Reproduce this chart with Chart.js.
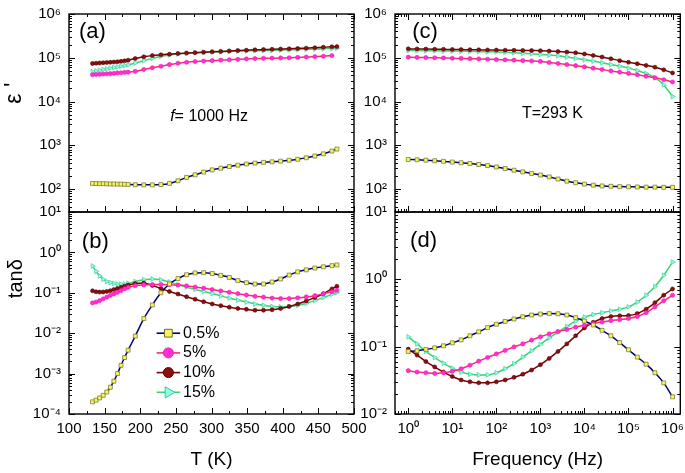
<!DOCTYPE html>
<html>
<head>
<meta charset="utf-8">
<script src="https://cdn.jsdelivr.net/npm/chart.js@4.4.0/dist/chart.umd.min.js"></script>
<style>
  html, body { margin: 0; padding: 0; background: #fff; }
  #wrap { position: relative; width: 685px; height: 473px; }
  #wrap canvas { position: absolute; left: 0; top: 0; }
</style>
</head>
<body>
<div id="wrap">
  <canvas id="panelA" width="685" height="473"></canvas>
  <canvas id="panelB" width="685" height="473"></canvas>
  <canvas id="panelC" width="685" height="473"></canvas>
  <canvas id="panelD" width="685" height="473"></canvas>
</div>
<script>
// ---- data ----
const seriesNames = ['0.5%', '5%', '10%', '15%'];

// temperature sweep at f = 1000 Hz
const temps = [133, 138, 143, 148, 153, 158, 163, 168, 173, 178, 183, 193, 205, 217, 229, 241, 253, 265,
  277, 289, 301, 313, 325, 337, 349, 361, 373, 385, 397, 409, 421, 433, 445, 457, 469, 476];

const epsT_05 = [135, 134, 133, 133, 132, 131, 131, 130, 130, 129, 128, 126, 125, 125, 127, 135, 155, 185,
  212, 245, 275, 300, 328, 352, 375, 393, 408, 420, 435, 455, 480, 520, 570, 640, 740, 820];
const epsT_5 = [41000, 41500, 42000, 42500, 43000, 43500, 44000, 45000, 45500, 46500, 47000, 49000, 54000, 59000,
  64000, 70000, 75000, 79000, 82000, 84000, 86000, 88000, 90000, 92000, 94000, 96000, 97000, 98000, 99000,
  100000, 102000, 104000, 106000, 108000, 112000, null];
const epsT_10 = [74000, 75000, 76000, 77000, 78000, 79000, 80000, 81000, 83000, 85000, 88000, 96000, 105000,
  112000, 117000, 121000, 125000, 128000, 131000, 134000, 137000, 140000, 143000, 146000, 149000, 152000,
  154000, 156000, 158000, 160000, 163000, 166000, 170000, 174000, 178000, 180000];
const epsT_15 = [48000, 50000, 52000, 54000, 56000, 58000, 60000, 62000, 64000, 66000, 69000, 76000, 86000,
  97000, 108000, 116000, 122000, 127000, 131000, 134000, 136000, 138000, 140000, 142000, 144000, 145000,
  146000, 148000, 150000, 152000, 154000, 156000, 158000, 161000, 163000, 165000];

const tanT_05 = [2.0e-4, 2.2e-4, 2.5e-4, 2.9e-4, 3.5e-4, 4.6e-4, 6.5e-4, 1.0e-3, 1.6e-3, 2.5e-3, 3.8e-3, 8.5e-3,
  0.023, 0.05, 0.1, 0.165, 0.225, 0.28, 0.31, 0.315, 0.3, 0.27, 0.24, 0.2, 0.178, 0.165, 0.165, 0.185, 0.22,
  0.275, 0.33, 0.37, 0.41, 0.44, 0.47, 0.49];
const tanT_5 = [0.056, 0.059, 0.064, 0.071, 0.078, 0.086, 0.094, 0.103, 0.113, 0.125, 0.136, 0.15, 0.157, 0.16,
  0.16, 0.159, 0.155, 0.148, 0.139, 0.13, 0.12, 0.111, 0.103, 0.095, 0.088, 0.082, 0.078, 0.074, 0.072, 0.072,
  0.075, 0.079, 0.085, 0.094, 0.106, 0.115];
const tanT_10 = [0.112, 0.106, 0.104, 0.105, 0.108, 0.113, 0.12, 0.128, 0.137, 0.146, 0.155, 0.17, 0.175, 0.152,
  0.128, 0.108, 0.093, 0.08, 0.069, 0.06, 0.053, 0.048, 0.044, 0.041, 0.039, 0.037, 0.037, 0.038, 0.041, 0.046,
  0.053, 0.063, 0.076, 0.095, 0.125, 0.145];
const tanT_15 = [0.46, 0.34, 0.26, 0.215, 0.19, 0.178, 0.17, 0.165, 0.163, 0.165, 0.172, 0.19, 0.21, 0.22, 0.21,
  0.185, 0.158, 0.138, 0.122, 0.108, 0.096, 0.084, 0.074, 0.066, 0.059, 0.053, 0.049, 0.046, 0.045, 0.046,
  0.049, 0.055, 0.064, 0.076, 0.092, 0.102];

// frequency sweep at T = 293 K
const freqs = [1, 1.585, 2.512, 3.981, 6.31, 10, 15.85, 25.12, 39.81, 63.1, 100, 158.5, 251.2, 398.1, 631,
  1000, 1585, 2512, 3981, 6310, 10000, 15850, 25120, 39810, 63100, 100000, 158500, 251200, 398100, 631000, 1000000];

const epsF_05 = [475, 468, 458, 445, 430, 415, 400, 385, 365, 345, 320, 295, 270, 248, 228, 210, 190, 170, 152,
  140, 130, 123, 118, 116, 114, 113, 112, 111, 111, 110, 110];
const epsF_5 = [103000, 102000, 101000, 100000, 99000, 97500, 96500, 95500, 94000, 92500, 91000, 89500, 88000,
  86000, 84500, 82500, 78000, 74000, 70000, 66000, 62000, 58000, 54000, 50000, 47000, 44000, 41000, 38000,
  35000, 31500, 28000];
const epsF_10 = [160000, 159000, 158000, 157000, 156000, 155000, 154000, 153000, 152000, 151000, 150000, 149000,
  148000, 147000, 146000, 145000, 142000, 139000, 135000, 130000, 122000, 113000, 104000, 95000, 86000, 79000,
  73000, 67000, 61000, 53000, 45000];
const epsF_15 = [147000, 146000, 145000, 144000, 143000, 142000, 141000, 140000, 139000, 137000, 136000, 134000,
  131000, 127000, 123000, 119000, 115000, 111000, 104000, 97000, 90000, 84000, 77000, 70000, 64000, 58000,
  51000, 44000, 35000, 24000, 13000];

const tanF_05 = [0.085, 0.087, 0.091, 0.096, 0.103, 0.114, 0.126, 0.145, 0.166, 0.192, 0.215, 0.237, 0.258, 0.278,
  0.295, 0.305, 0.31, 0.308, 0.295, 0.27, 0.24, 0.21, 0.175, 0.145, 0.115, 0.09, 0.07, 0.055, 0.041, 0.029, 0.018];
const tanF_5 = [0.044, 0.042, 0.041, 0.040, 0.041, 0.043, 0.047, 0.053, 0.061, 0.069, 0.078, 0.088, 0.099, 0.11,
  0.125, 0.14, 0.155, 0.168, 0.18, 0.195, 0.208, 0.22, 0.232, 0.243, 0.252, 0.262, 0.28, 0.32, 0.39, 0.48, 0.58];
const tanF_10 = [0.092, 0.075, 0.06, 0.05, 0.042, 0.036, 0.032, 0.03, 0.029, 0.029, 0.03, 0.032, 0.035, 0.039,
  0.045, 0.054, 0.067, 0.085, 0.11, 0.145, 0.19, 0.23, 0.262, 0.28, 0.287, 0.29, 0.31, 0.36, 0.45, 0.58, 0.72];
const tanF_15 = [0.14, 0.11, 0.085, 0.069, 0.057, 0.048, 0.042, 0.039, 0.038, 0.038, 0.041, 0.047, 0.056, 0.07,
  0.087, 0.108, 0.135, 0.165, 0.2, 0.24, 0.275, 0.3, 0.32, 0.34, 0.36, 0.39, 0.46, 0.58, 0.78, 1.15, 1.8];

// tick labels
const tempTicks = [100, 150, 200, 250, 300, 350, 400, 450, 500];
const epsDecades = [2, 3, 4, 5, 6];
const tanTDecades = [-4, -3, -2, -1, 0, 1];
const tanFDecades = [-2, -1, 0, 1];
const freqDecades = [0, 1, 2, 3, 4, 5, 6];

// ---- styling ----
const FONT = "'Liberation Sans', Arial, sans-serif";
Chart.defaults.font.family = FONT;
Chart.defaults.color = '#000';

const seriesStyles = [
  { borderColor: '#00007a', pointStyle: 'rect', pointRotation: 0, pointRadius: 2.8,
    pointBackgroundColor: '#f6f65a', pointBorderColor: '#6e6e2c', pointBorderWidth: 0.7, legendRadius: 5.5 },
  { borderColor: '#ff2a6e', pointStyle: 'circle', pointRotation: 0, pointRadius: 2.1,
    pointBackgroundColor: '#ff30d0', pointBorderColor: '#ff14b4', pointBorderWidth: 0.6, legendRadius: 5 },
  { borderColor: '#7a0000', pointStyle: 'circle', pointRotation: 0, pointRadius: 2,
    pointBackgroundColor: '#8a1010', pointBorderColor: '#5a0000', pointBorderWidth: 0.6, legendRadius: 5 },
  { borderColor: '#3ed46c', pointStyle: 'triangle', pointRotation: 90, pointRadius: 2.8,
    pointBackgroundColor: '#8cffe0', pointBorderColor: '#3cc8a0', pointBorderWidth: 0.6, legendRadius: 6.5 }
];

const SUP = { '-': '\u207B', '0': '\u2070', '1': '\u00B9', '2': '\u00B2', '3': '\u00B3', '4': '\u2074',
  '5': '\u2075', '6': '\u2076', '7': '\u2077', '8': '\u2078', '9': '\u2079' };
const decadeLabel = e => '10' + String(e).split('').map(c => SUP[c]).join('');

function logTicks(min, max) {
  const out = [];
  for (let e = Math.floor(Math.log10(min)); e <= Math.ceil(Math.log10(max)); e++) {
    for (let k = 1; k < 10; k++) {
      const v = k * Math.pow(10, e);
      if (v >= min * 0.999 && v <= max * 1.001) out.push({ value: v, major: k === 1, exp: e });
    }
  }
  return out;
}

function fixSize(prop, size) {
  return s => {
    s[prop] = size;
    s.paddingLeft = s.paddingRight = s.paddingTop = s.paddingBottom = 0;
  };
}

const tickFont = { family: FONT, size: 15 };

function tempAxis(showLabels, height, title) {
  return {
    type: 'linear', position: 'bottom', min: 100, max: 500, bounds: 'data',
    afterBuildTicks: s => {
      const t = [];
      for (let v = 100; v <= 500; v += 25) t.push({ value: v, major: v % 50 === 0 });
      s.ticks = t;
    },
    ticks: { display: showLabels, autoSkip: false, maxRotation: 0, padding: 6, font: tickFont, color: '#000',
      callback: v => tempTicks.includes(v) ? String(v) : '' },
    grid: { display: false, drawTicks: false },
    border: { display: false },
    title: title ? { display: true, text: title, font: { family: FONT, size: 19 }, color: '#000', padding: { top: 0, bottom: 2 } } : { display: false },
    afterFit: fixSize('height', height)
  };
}

function logAxis(pos, min, max, decades, showLabels, size, title) {
  const horiz = pos === 'bottom';
  return {
    type: 'logarithmic', position: pos, min, max, bounds: 'data',
    afterBuildTicks: s => { s.ticks = logTicks(min, max); },
    ticks: { display: showLabels, autoSkip: false, maxRotation: 0, padding: horiz ? 6 : 8, font: tickFont, color: '#000',
      callback: (v, i, t) => (t[i].major && decades.includes(t[i].exp)) ? decadeLabel(t[i].exp) : '' },
    grid: { display: false, drawTicks: false },
    border: { display: false },
    title: title ? { display: true, text: title, font: { family: FONT, size: 19 }, color: '#000', padding: { top: 0, bottom: 2 } } : { display: false },
    afterFit: fixSize(horiz ? 'height' : 'width', size)
  };
}

// frame and inward ticks on all sides
function framePlugin(topTicks) {
  return {
    id: 'frame',
    afterDatasetsDraw(chart) {
      const { ctx, chartArea: a, scales } = chart;
      ctx.save();
      ctx.strokeStyle = '#000';
      ctx.lineWidth = 1;
      ctx.beginPath();
      scales.x.ticks.forEach(t => {
        const p = Math.round(scales.x.getPixelForValue(t.value)) + 0.5;
        const len = t.major ? 6 : 3;
        ctx.moveTo(p, a.bottom); ctx.lineTo(p, a.bottom - len);
        if (topTicks) { ctx.moveTo(p, a.top); ctx.lineTo(p, a.top + len); }
      });
      scales.y.ticks.forEach(t => {
        const p = Math.round(scales.y.getPixelForValue(t.value)) + 0.5;
        const len = t.major ? 6 : 3;
        ctx.moveTo(a.left, p); ctx.lineTo(a.left + len, p);
        ctx.moveTo(a.right, p); ctx.lineTo(a.right - len, p);
      });
      ctx.stroke();
      ctx.lineWidth = 1.4;
      ctx.strokeRect(a.left, a.top, a.right - a.left, a.bottom - a.top);
      ctx.restore();
    }
  };
}

// text annotations: in data units (at) or relative to chart area (dx, fy)
function notesPlugin(items) {
  return {
    id: 'notes',
    afterDraw(chart) {
      const { ctx, chartArea: a, scales } = chart;
      items.forEach(n => {
        ctx.save();
        let px, py;
        if (n.at) { px = scales.x.getPixelForValue(n.at[0]); py = scales.y.getPixelForValue(n.at[1]); }
        else { px = a.left + n.dx; py = a.top + n.fy * (a.bottom - a.top); }
        ctx.translate(px, py);
        if (n.rotate) ctx.rotate(n.rotate * Math.PI / 180);
        ctx.fillStyle = '#000';
        ctx.textBaseline = 'middle';
        ctx.textAlign = 'left';
        const parts = n.parts || [[n.text, '']];
        const widths = parts.map(p => { ctx.font = (p[1] + ' ' + n.size + 'px ' + FONT).trim(); return ctx.measureText(p[0]).width; });
        const total = widths.reduce((s, w) => s + w, 0);
        let cx = n.align === 'center' ? -total / 2 : 0;
        parts.forEach((p, i) => {
          ctx.font = (p[1] + ' ' + n.size + 'px ' + FONT).trim();
          ctx.fillText(p[0], cx, 0);
          cx += widths[i];
        });
        ctx.restore();
      });
    }
  };
}

function drawMarker(ctx, st, x, y, r) {
  ctx.fillStyle = st.pointBackgroundColor;
  ctx.strokeStyle = st.pointBorderColor;
  ctx.lineWidth = 1;
  if (Chart.helpers && Chart.helpers.drawPoint) {
    Chart.helpers.drawPoint(ctx, { pointStyle: st.pointStyle, rotation: st.pointRotation, radius: r, borderWidth: 1 }, x, y);
  } else {
    ctx.beginPath(); ctx.arc(x, y, r, 0, 2 * Math.PI); ctx.fill(); ctx.stroke();
  }
}

// legend drawn inside panel (b), anchored in data units
function keyPlugin(key) {
  return {
    id: 'seriesKey',
    afterDraw(chart) {
      const { ctx, scales } = chart;
      const x1 = scales.x.getPixelForValue(key.lineFrom);
      const x2 = scales.x.getPixelForValue(key.lineTo);
      const xt = scales.x.getPixelForValue(key.textAt);
      const y0 = scales.y.getPixelForValue(key.firstRow);
      ctx.save();
      seriesNames.forEach((name, i) => {
        const st = seriesStyles[i];
        const y = y0 + i * key.rowStep;
        ctx.strokeStyle = st.borderColor;
        ctx.lineWidth = 1.6;
        ctx.beginPath(); ctx.moveTo(x1, y); ctx.lineTo(x2, y); ctx.stroke();
        drawMarker(ctx, st, (x1 + x2) / 2, y, st.legendRadius);
        ctx.fillStyle = '#000';
        ctx.font = '16px ' + FONT;
        ctx.textBaseline = 'middle';
        ctx.textAlign = 'left';
        ctx.fillText(name, xt, y);
      });
      ctx.restore();
    }
  };
}

function makeDatasets(xs, seriesList) {
  return seriesList.map((vals, i) => {
    const st = seriesStyles[i];
    return {
      label: seriesNames[i],
      data: xs.map((x, j) => ({ x, y: vals[j] })),
      borderColor: st.borderColor,
      borderWidth: 1.5,
      pointStyle: st.pointStyle,
      pointRotation: st.pointRotation,
      pointRadius: st.pointRadius,
      pointBackgroundColor: st.pointBackgroundColor,
      pointBorderColor: st.pointBorderColor,
      pointBorderWidth: st.pointBorderWidth,
      cubicInterpolationMode: 'monotone',
      fill: false
    };
  });
}

function makePanel(id, cfg) {
  const plugins = [framePlugin(cfg.topTicks), notesPlugin(cfg.notes)];
  if (cfg.key) plugins.push(keyPlugin(cfg.key));
  return new Chart(document.getElementById(id), {
    type: 'line',
    data: { datasets: makeDatasets(cfg.xs, cfg.series) },
    options: {
      responsive: false,
      animation: false,
      events: [],
      layout: { padding: cfg.padding },
      plugins: { legend: { display: false }, tooltip: { enabled: false } },
      scales: { x: cfg.x, y: cfg.y }
    },
    plugins
  });
}

// (a) permittivity vs temperature
makePanel('panelA', {
  xs: temps, series: [epsT_05, epsT_5, epsT_10, epsT_15],
  padding: { left: 0, top: 14, right: 331, bottom: 261 },
  topTicks: true,
  x: tempAxis(false, 0),
  y: logAxis('left', 30, 1e6, epsDecades, true, 69),
  notes: [
    { text: '(a)', at: [114, 3.9e5], size: 22 },
    { parts: [['f', 'italic'], ['= 1000 Hz', '']], at: [242, 4500], size: 16 },
    { text: "\u03B5 '", dx: -54, fy: 0.40, rotate: -90, size: 23, align: 'center' }
  ]
});

// (b) loss tangent vs temperature
makePanel('panelB', {
  xs: temps, series: [tanT_05, tanT_5, tanT_10, tanT_15],
  padding: { left: 0, top: 212, right: 331, bottom: 0 },
  topTicks: false,
  x: tempAxis(true, 59, 'T (K)'),
  y: logAxis('left', 1e-4, 10, tanTDecades, true, 69),
  notes: [
    { text: '(b)', at: [118, 1.8], size: 22 },
    { text: 'tan\u03B4', dx: -53, fy: 0.33, rotate: -90, size: 20, align: 'center' }
  ],
  key: { lineFrom: 223, lineTo: 256, textAt: 260, firstRow: 1e-2, rowStep: 19.7 }
});

// (c) permittivity vs frequency
makePanel('panelC', {
  xs: freqs, series: [epsF_05, epsF_5, epsF_10, epsF_15],
  padding: { left: 335, top: 14, right: 4, bottom: 261 },
  topTicks: true,
  x: logAxis('bottom', 0.5, 1.5e6, freqDecades, false, 0),
  y: logAxis('left', 30, 1e6, epsDecades, true, 60),
  notes: [
    { text: '(c)', at: [1.23, 3.9e5], size: 22 },
    { text: 'T=293 K', at: [380, 5200], size: 16 }
  ]
});

// (d) loss tangent vs frequency
makePanel('panelD', {
  xs: freqs, series: [tanF_05, tanF_5, tanF_10, tanF_15],
  padding: { left: 335, top: 212, right: 4, bottom: 0 },
  topTicks: false,
  x: logAxis('bottom', 0.5, 1.5e6, freqDecades, true, 59, 'Frequency (Hz)'),
  y: logAxis('left', 0.01, 10, tanFDecades, true, 60),
  notes: [
    { text: '(d)', at: [1.1, 3.7], size: 22 }
  ]
});
</script>
</body>
</html>
